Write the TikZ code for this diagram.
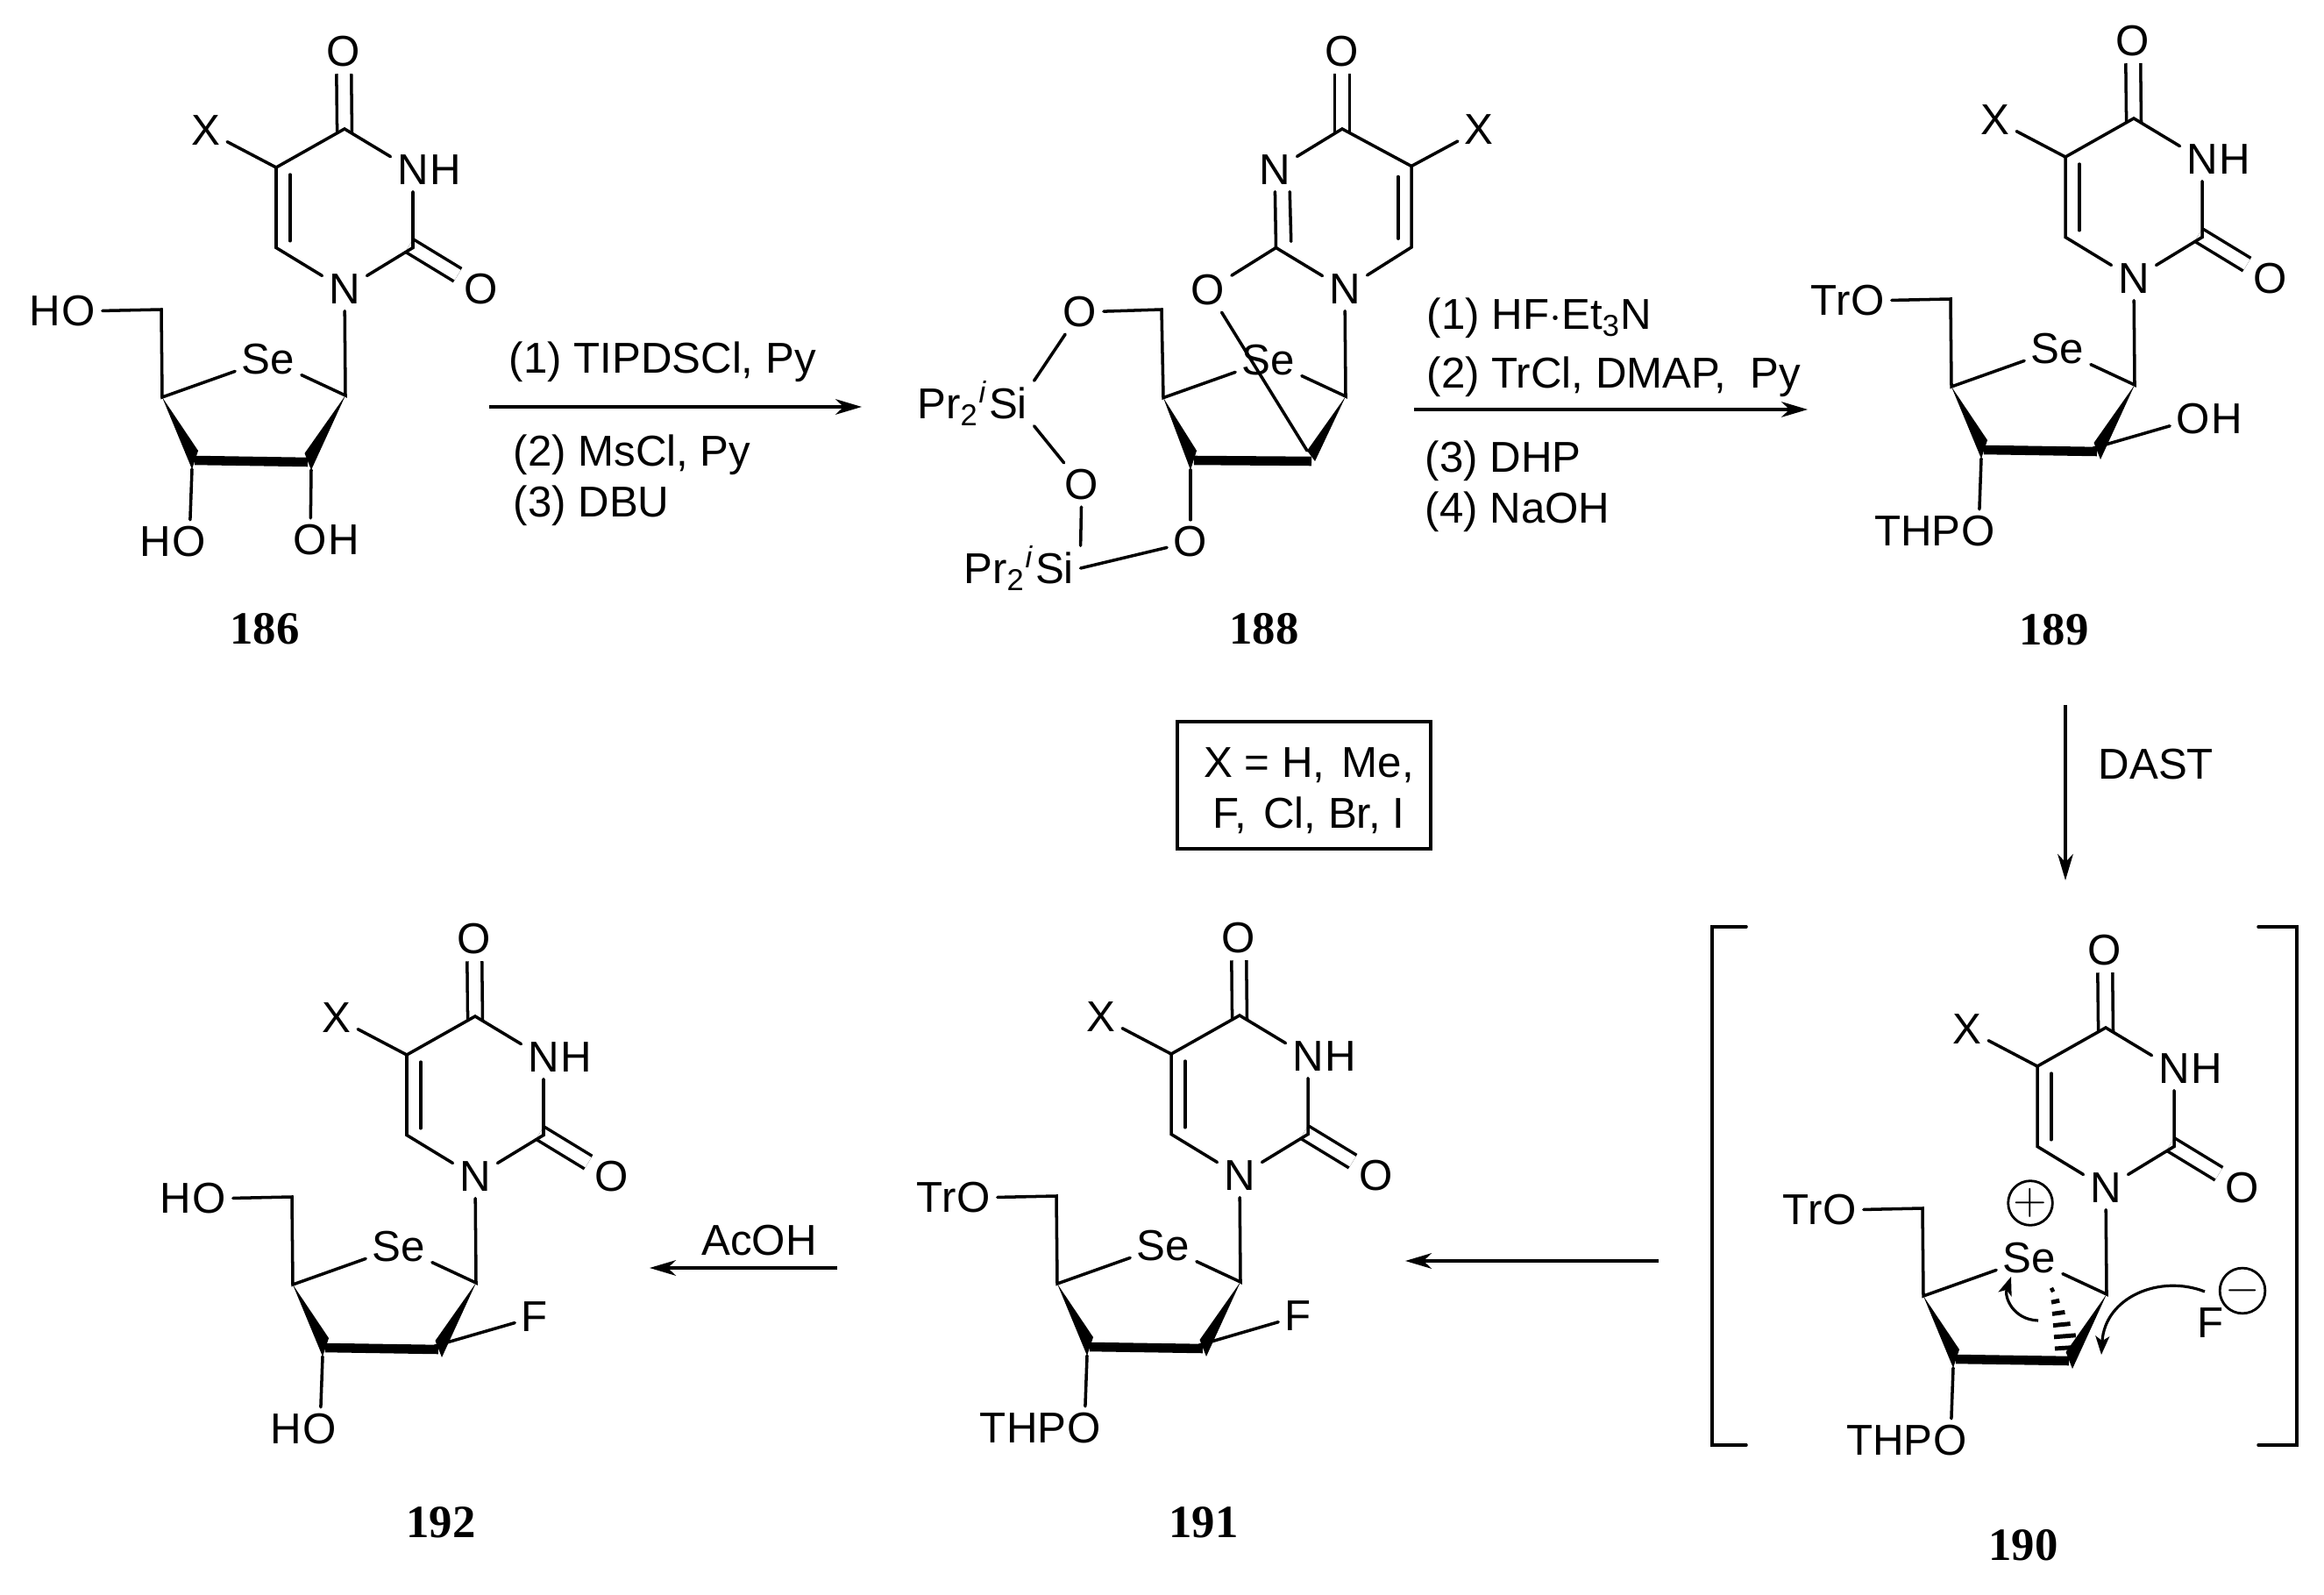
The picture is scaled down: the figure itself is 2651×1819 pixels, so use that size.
\documentclass[tikz,border=0pt]{standalone}
\usepackage{fontspec}
\setmainfont{Liberation Sans}
\newfontfamily\labfont{Liberation Serif}
\usetikzlibrary{positioning,arrows.meta}

\begin{document}
\begin{tikzpicture}[x=.01cm,y=-.01cm,
	every node/.style={font=\fontsize{14}{16.5}\selectfont},
	atom/.style={inner sep=2pt},
	txt/.style={inner sep=0pt,anchor=base west},
	lab/.style={font=\fontsize{15}{15}\labfont\bfseries},
	bond/.style={line width=1pt,line cap=round},
	dblbond/.style={line width=1pt,double,double distance=3.8pt,shorten <=-1.4pt},
	boldbond/.style={line width=3pt},
	rxn/.style={line width=1.1pt,-{Stealth[length=8.5pt,width=5pt,inset=2.6pt]}},
	curly/.style={line width=.9pt,-{Stealth[length=6pt,width=4.5pt,inset=1.5pt]}},
	charge/.style={circle,draw,line width=.8pt,inner sep=0pt,minimum size=.37cm}]
	\useasboundingbox (0,0) rectangle (2651,1819);

	\def\nucleoside#1#2{
		\node[atom] (n1) at (0,0) {N};
		\node[atom] (n3) at (78,-136) {N};
		\node[atom,base right=-4pt of n3] (h3) {H};
		\node[atom] (o4) at (-1,-271) {O};
		\node[atom] (o2) at (156,0) {O};
		\node[atom] (xs) at (-158,-181) {X};
		\node[atom] (se) at (-87,80) {Se};
		\node[atom] (o5) at (-303,25) {O};
		\node[atom,base left=-4pt of o5] (r5) {#1};
		\node[atom] (o3) at (-177,288) {O};
		\node[atom,base left=-4pt of o3] (r3) {#2};
		\coordinate (c2) at (78,-47.5);
		\coordinate (c4) at (0,-183);
		\coordinate (c5) at (-78,-139);
		\coordinate (c6) at (-78,-47.5);
		\coordinate (c1p) at (1,121);
		\coordinate (c4p) at (-208,123);
		\coordinate (c5p) at (-209,23);
		\coordinate (c3p) at (-171,195);
		\coordinate (c2p) at (-42,197);
		\coordinate (c3b) at (-174,205);
		\coordinate (c2b) at (-38,206);
		\coordinate (c2s) at (-46,193);
		\draw[dblbond] (c4) -- (o4);
		\draw[dblbond] (c2) -- (o2);
		\draw[bond] (xs) -- (c5) -- (c4) -- (n3) -- (c2) -- (n1) -- (c6) -- (c5);
		\draw[bond] ([xshift=4.5pt,yshift=-2.3pt]c5) -- ([xshift=4.5pt,yshift=2.2pt]c6);
		\draw[bond] (n1) -- (c1p) -- (se) -- (c4p) -- (c5p) -- (o5);
		\fill (c4p) -- (-167,184) -- (c3b) -- cycle;
		\fill (c1p) -- (-45.5,187) -- (c2b) -- cycle;
		\draw[boldbond] (c3p) -- (c2p);
		\draw[bond] (c3b) -- (o3);
	}

	% 186
	\begin{scope}[shift={(393,330)},name prefix=a-]
		\nucleoside{H}{H}
		\node[atom] (o2p) at (-39,286) {O};
		\node[atom,base right=-4pt of o2p] (h2p) {H};
		\draw[bond] (c2b) -- (o2p);
	\end{scope}
	\node[lab] (l186) at (302,717) {186};

	% 188
	\begin{scope}[shift={(1534,330)},name prefix=b-]
		\node[atom] (n1) at (0,0) {N};
		\node[atom] (n3) at (-80,-136) {N};
		\node[atom] (o4) at (-3,-271) {O};
		\node[atom] (o2) at (-156,1) {O};
		\node[atom] (xs) at (153,-182) {X};
		\node[atom] (se) at (-87,81) {Se};
		\node[atom] (o5) at (-302,26) {O};
		\node[atom] (om) at (-300,223) {O};
		\node[atom] (o3) at (-176,288) {O};
		\node[atom] (si1) at (-384,130) {Si};
		\node[atom,base left=-4pt of si1] (pr1) {Pr\textsubscript{2}\textsuperscript{\textit{i}}};
		\node[atom] (si2) at (-331,318) {Si};
		\node[atom,base left=-4pt of si2] (pr2) {Pr\textsubscript{2}\textsuperscript{\textit{i}}};
		\coordinate (c2) at (-78.5,-47.5);
		\coordinate (c4) at (-3,-183);
		\coordinate (c5) at (76,-140.5);
		\coordinate (c6) at (76,-48);
		\coordinate (c1p) at (1,122);
		\coordinate (c4p) at (-207,123.6);
		\coordinate (c5p) at (-209,23);
		\coordinate (c3p) at (-172,195);
		\coordinate (c2p) at (-38,196);
		\coordinate (c3b) at (-176,206);
		\coordinate (c2t) at (-43,184);
		\coordinate (c2b) at (-34,196);
		\draw[dblbond] (c4) -- (o4);
		\draw[bond] (xs) -- (c5) -- (c4) -- (n3) -- (c2) -- (n1) -- (c6) -- (c5);
		\draw[bond] ([xshift=4.9pt]n3.south) -- ([xshift=4.9pt,yshift=2pt]c2);
		\draw[bond] ([xshift=-4.3pt,yshift=-3.4pt]c5) -- ([xshift=-4.3pt,yshift=2.8pt]c6);
		\draw[bond] (o2) -- (c2);
		\draw[bond] (n1) -- (c1p) -- (se) -- (c4p) -- (c5p) -- (o5);
		\fill (c4p) -- (-169,184) -- (c3b) -- cycle;
		\fill (c1p) -- (c2t) -- (c2b) -- cycle;
		\draw[boldbond] (c3p) -- (c2p);
		\draw[bond] (c3b) -- (o3);
		\draw[bond] (o2) -- (c2t);
		\draw[bond] (o5) -- (si1.north east);
		\draw[bond] (si1.south east) -- (om);
		\draw[bond] (om) -- (si2.north east);
		\draw[bond] (si2.east) -- (o3);
	\end{scope}
	\node[lab] (l188) at (1442,717) {188};

	% 189
	\begin{scope}[shift={(2434,318)},name prefix=c-]
		\nucleoside{Tr}{THP}
		\node[atom] (o2p) at (68,160) {O};
		\node[atom,base right=-4pt of o2p] (h2p) {H};
		\draw[bond] (c2s) -- (o2p);
	\end{scope}
	\node[lab] (l189) at (2343,718) {189};

	% 190
	\begin{scope}[shift={(2402,1355)},name prefix=d-]
		\nucleoside{Tr}{THP}
		\node[atom] (fl) at (120,154) {F};
		\node[charge] (plus) at (-86,17) {$+$};
		\node[charge] (minus) at (156,117) {$-$};
		\coordinate (fs) at (113,118);
		\coordinate (ft) at (-5,190);
		\coordinate (es) at (-77,151);
		\coordinate (et) at (-108,101);
		\foreach \i in {0,...,5}{
			\draw[line width=1.4pt] ({-61+3.6*\i-(2+2.6*\i)},{116+13.2*\i+1}) -- ({-61+3.6*\i+2+2.6*\i},{116+13.2*\i-1});
		}
		\draw[curly] (fs) .. controls (62,98) and (-1,124) .. (ft);
		\draw[curly] (es) .. controls (-106,150) and (-116,124) .. (et);
	\end{scope}
	\draw[bond] (1992,1057) -- (1953,1057) -- (1953,1648) -- (1992,1648);
	\draw[bond] (2576,1057) -- (2620,1057) -- (2620,1648) -- (2576,1648);
	\node[lab] (l190) at (2308,1762) {190};

	% 191
	\begin{scope}[shift={(1414,1341)},name prefix=e-]
		\nucleoside{Tr}{THP}
		\node[atom] (f2p) at (67,160) {F};
		\draw[bond] (c2s) -- (f2p);
	\end{scope}
	\node[lab] (l191) at (1373,1736) {191};

	% 192
	\begin{scope}[shift={(542,1342)},name prefix=f-]
		\nucleoside{H}{H}
		\node[atom] (f2p) at (68,160) {F};
		\draw[bond] (c2s) -- (f2p);
	\end{scope}
	\node[lab] (l192) at (503,1736) {192};

	% arrows
	\coordinate (ar1a) at (558,464);
	\coordinate (ar1b) at (983,464);
	\coordinate (ar2a) at (1613,467);
	\coordinate (ar2b) at (2062,467);
	\coordinate (ar3a) at (2356,804);
	\coordinate (ar3b) at (2356,1004);
	\coordinate (ar4a) at (1892,1438);
	\coordinate (ar4b) at (1603,1438);
	\coordinate (ar5a) at (955,1446);
	\coordinate (ar5b) at (741,1446);
	\draw[rxn] (ar1a) -- (ar1b);
	\draw[rxn] (ar2a) -- (ar2b);
	\draw[rxn] (ar3a) -- (ar3b);
	\draw[rxn] (ar4a) -- (ar4b);
	\draw[rxn] (ar5a) -- (ar5b);

	\node[txt] (ra1) at (580,426) {(1) TIPDSCl, Py};
	\node[txt] (ra2) at (585,532) {(2) MsCl, Py};
	\node[txt] (ra3) at (585,590) {(3) DBU};
	\node[txt] (rb1) at (1627,376) {(1) HF$\cdot$Et\textsubscript{3}N};
	\node[txt] (rb2) at (1627,443) {(2) TrCl, DMAP,\ \ Py};
	\node[txt] (rb3) at (1625,539) {(3) DHP};
	\node[txt] (rb4) at (1625,597) {(4) NaOH};
	\node[txt] (rc) at (2393,889) {DAST};
	\node[txt,anchor=base] (rd) at (866,1431) {AcOH};

	\node[draw,line width=1pt,minimum width=2.89cm,minimum height=1.45cm,inner sep=0pt] (xbox) at (1487.5,895.5) {};
	\node[align=center,inner sep=0pt] (xtext) at (1493,902) {X = H,\hspace{.12em} Me,\\F,\hspace{.12em} Cl, Br, I};
\end{tikzpicture}
\end{document}
